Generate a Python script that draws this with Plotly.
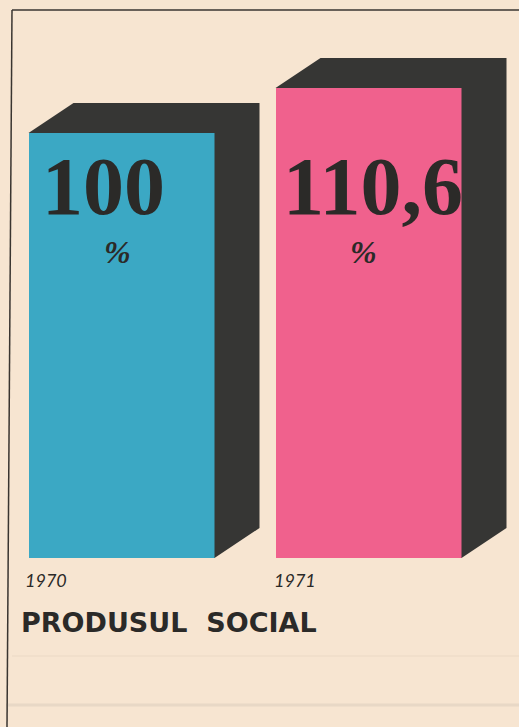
import plotly.graph_objects as go

# ---- data ----
years = ["1970", "1971"]
values = [100.0, 110.6]
value_labels = ["100", "110,6"]
unit_labels = ["%", "%"]
title_text = "PRODUSUL  SOCIAL"

# ---- styles / layout constants ----
W, H = 519, 727
bar_colors = ["#3ba8c4", "#f0618d"]
side_color = "#363634"
paper_color = "#f7e5d1"
ink = "#2b2a28"

BASE_PX = 558          # pixel row of value 0
PPU = 4.25             # pixels per value unit
bar_centers = [121.5, 368.5]
bar_width = 186
depth_dx = 45
depth_dy = 30 / PPU

label_x = [103, 373]
label_y_px = 186
pct_x = [117, 363]
pct_y_px = 252
year_x = [23, 272]
year_y_px = 580

fig = go.Figure()

# dark side + top faces (3D depth), derived from the values
for c, v in zip(bar_centers, values):
    x0 = c - bar_width / 2
    x1 = c + bar_width / 2
    xs = [x0, x0 + depth_dx, x1 + depth_dx, x1 + depth_dx, x1, x1, x0]
    ys = [v, v + depth_dy, v + depth_dy, depth_dy, 0, v, v]
    fig.add_trace(go.Scatter(x=xs, y=ys, mode="lines", fill="toself",
                             fillcolor=side_color, line=dict(width=0, color=side_color),
                             hoverinfo="skip", showlegend=False))

# front faces
fig.add_trace(go.Bar(x=bar_centers, y=values, width=bar_width,
                     marker=dict(color=bar_colors, line=dict(width=0)),
                     hovertext=years, showlegend=False))

ann = []
for i in range(len(values)):
    ann.append(dict(x=label_x[i], xref="x", y=1 - label_y_px / H, yref="paper",
                    text=value_labels[i], showarrow=False, xanchor="center", yanchor="middle",
                    font=dict(family="Liberation Serif", size=82, color=ink, weight="bold")))
    ann.append(dict(x=pct_x[i], xref="x", y=1 - pct_y_px / H, yref="paper",
                    text=unit_labels[i], showarrow=False, xanchor="center", yanchor="middle",
                    font=dict(family="Liberation Serif", size=32, color=ink, weight="bold", style="italic")))
    ann.append(dict(x=year_x[i], xref="x", y=1 - year_y_px / H, yref="paper",
                    text=years[i], showarrow=False, xanchor="left", yanchor="middle",
                    font=dict(family="Lato", size=18, color=ink, style="italic")))
ann.append(dict(x=19, xref="x", y=1 - 622 / H, yref="paper", text=title_text,
                showarrow=False, xanchor="left", yanchor="middle",
                font=dict(family="DejaVu Sans", size=27, color=ink, weight="bold")))

shapes = [
    dict(type="line", xref="x", yref="paper", x0=12, x1=W, y0=1 - 10 / H, y1=1 - 10 / H,
         line=dict(color="#3a3530", width=1.5)),
    dict(type="line", xref="x", yref="paper", x0=12, x1=7, y0=1 - 10 / H, y1=0,
         line=dict(color="#3a3530", width=1.5)),
    dict(type="line", xref="x", yref="paper", x0=12, x1=W, y0=1 - 656 / H, y1=1 - 656 / H,
         line=dict(color="rgba(190,170,150,0.2)", width=1)),
    dict(type="line", xref="x", yref="paper", x0=8, x1=W, y0=1 - 705 / H, y1=1 - 705 / H,
         line=dict(color="rgba(175,165,155,0.2)", width=3)),
]

fig.update_layout(
    width=W, height=H, margin=dict(l=0, r=0, t=0, b=0),
    paper_bgcolor=paper_color, plot_bgcolor=paper_color,
    xaxis=dict(range=[0, W], visible=False, fixedrange=True),
    yaxis=dict(range=[(BASE_PX - H) / PPU, BASE_PX / PPU], visible=False, fixedrange=True),
    annotations=ann, shapes=shapes, showlegend=False, bargap=0,
)

fig.write_html("out.html", config={"displayModeBar": False},
               post_script="document.body.style.margin='0';document.body.style.overflow='hidden';")
